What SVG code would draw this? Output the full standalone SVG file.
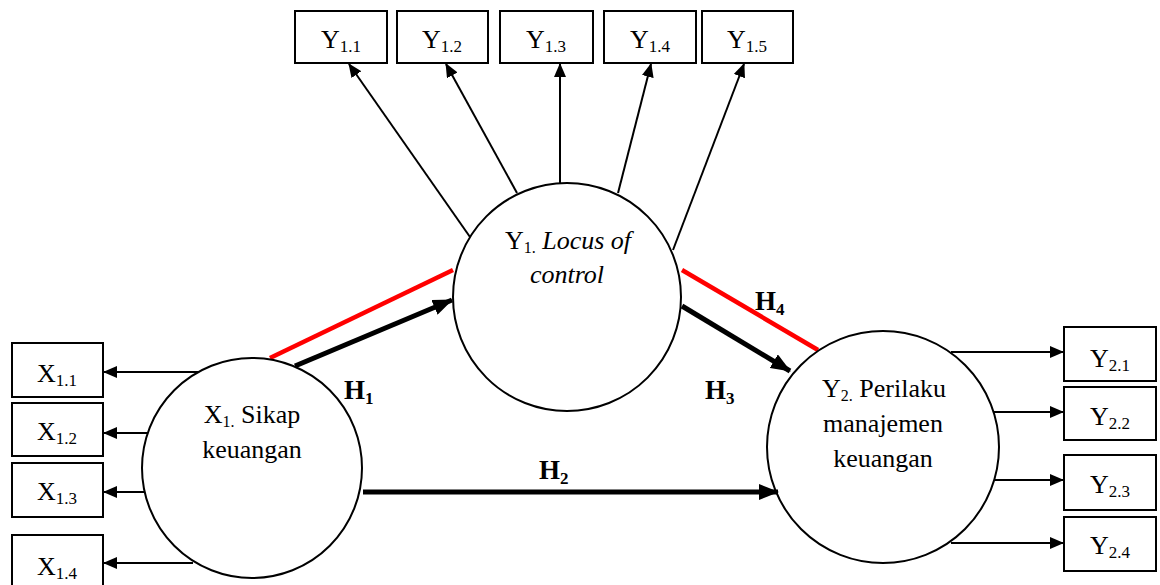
<svg xmlns="http://www.w3.org/2000/svg" width="1160" height="585" viewBox="0 0 1160 585">
<style>
.box{fill:#fff;stroke:#000;stroke-width:2}
.circ{fill:#fff;stroke:#000;stroke-width:2}
.thin{stroke:#000;stroke-width:2;fill:none;marker-end:url(#ah)}
.thick{stroke:#000;stroke-width:5;fill:none;marker-end:url(#ahb)}
.red{stroke:#ff0000;stroke-width:4.5;fill:none}
</style>
<defs>
<marker id="ah" markerUnits="userSpaceOnUse" markerWidth="14" markerHeight="12" refX="13" refY="6" orient="auto">
<path d="M0,0 L14,6 L0,12 Z" fill="#000"/>
</marker>
<marker id="ahb" markerUnits="userSpaceOnUse" markerWidth="20" markerHeight="16" refX="19" refY="8" orient="auto">
<path d="M0,0 L20,8 L0,16 Z" fill="#000"/>
</marker>
</defs>
<rect width="1160" height="585" fill="#fff"/>
<g id="connectors">
<line class="thin" x1="470" y1="237" x2="349" y2="64"/>
<line class="thin" x1="517" y1="193" x2="446" y2="64"/>
<line class="thin" x1="560" y1="184" x2="560" y2="64"/>
<line class="thin" x1="618" y1="193" x2="651" y2="64"/>
<line class="thin" x1="673" y1="250" x2="744" y2="64"/>
<line class="thin" x1="205" y1="372" x2="104" y2="372"/>
<line class="thin" x1="148" y1="433" x2="104" y2="433"/>
<line class="thin" x1="150" y1="492" x2="104" y2="492"/>
<line class="thin" x1="193" y1="563" x2="104" y2="563"/>
<line class="thin" x1="951" y1="352" x2="1063" y2="352"/>
<line class="thin" x1="988" y1="412" x2="1063" y2="412"/>
<line class="thin" x1="988" y1="480" x2="1063" y2="480"/>
<line class="thin" x1="951" y1="543" x2="1063" y2="543"/>
<line class="red" x1="270" y1="358" x2="453" y2="270"/>
<line class="red" x1="682" y1="270" x2="818" y2="350"/>
</g>
<g font-family="Liberation Serif, serif" fill="#000">
<g id="Y1" font-size="26">
<circle class="circ" cx="567" cy="297" r="114"/>
<text x="568" y="249" text-anchor="middle">Y<tspan font-size="16" dy="4">1.</tspan><tspan dy="-4" font-style="italic"> Locus of</tspan></text>
<text x="567" y="283" text-anchor="middle" font-style="italic">control</text>
</g>
<g id="X1" font-size="26">
<circle class="circ" cx="252" cy="468" r="110"/>
<text x="252" y="423" text-anchor="middle">X<tspan font-size="16" dy="4">1.</tspan><tspan dy="-4"> Sikap</tspan></text>
<text x="252" y="458" text-anchor="middle">keuangan</text>
</g>
<g id="Y2" font-size="26">
<circle class="circ" cx="883" cy="447" r="116"/>
<text x="884" y="397" text-anchor="middle">Y<tspan font-size="16" dy="4">2.</tspan><tspan dy="-4"> Perilaku</tspan></text>
<text x="883" y="432" text-anchor="middle">manajemen</text>
<text x="883" y="467" text-anchor="middle">keuangan</text>
</g>
<g id="hyp-connectors">
<line class="thick" x1="295" y1="366" x2="452" y2="300"/>
<line class="thick" x1="682" y1="306" x2="790" y2="371"/>
<line class="thick" x1="363" y1="492" x2="778" y2="492"/>
</g>
<g font-size="26" text-anchor="middle">
<g id="Y1.1"><rect class="box" x="295" y="11" width="92" height="52"/><text x="341" y="48">Y<tspan font-size="17" dy="4">1.1</tspan></text></g>
<g id="Y1.2"><rect class="box" x="397" y="11" width="91" height="52"/><text x="442" y="48">Y<tspan font-size="17" dy="4">1.2</tspan></text></g>
<g id="Y1.3"><rect class="box" x="500" y="11" width="93" height="52"/><text x="546" y="48">Y<tspan font-size="17" dy="4">1.3</tspan></text></g>
<g id="Y1.4"><rect class="box" x="604" y="11" width="92" height="52"/><text x="650" y="48">Y<tspan font-size="17" dy="4">1.4</tspan></text></g>
<g id="Y1.5"><rect class="box" x="702" y="11" width="91" height="52"/><text x="747" y="48">Y<tspan font-size="17" dy="4">1.5</tspan></text></g>
<g id="X1.1"><rect class="box" x="12" y="343" width="91" height="54"/><text x="57" y="382">X<tspan font-size="17" dy="4">1.1</tspan></text></g>
<g id="X1.2"><rect class="box" x="12" y="403" width="91" height="53"/><text x="57" y="440">X<tspan font-size="17" dy="4">1.2</tspan></text></g>
<g id="X1.3"><rect class="box" x="12" y="463" width="91" height="54"/><text x="57" y="500">X<tspan font-size="17" dy="4">1.3</tspan></text></g>
<g id="X1.4"><rect class="box" x="12" y="535" width="91" height="52"/><text x="57" y="575">X<tspan font-size="17" dy="4">1.4</tspan></text></g>
<g id="Y2.1"><rect class="box" x="1064" y="327" width="92" height="54"/><text x="1110" y="367">Y<tspan font-size="17" dy="4">2.1</tspan></text></g>
<g id="Y2.2"><rect class="box" x="1064" y="387" width="92" height="53"/><text x="1110" y="425">Y<tspan font-size="17" dy="4">2.2</tspan></text></g>
<g id="Y2.3"><rect class="box" x="1064" y="455" width="92" height="55"/><text x="1110" y="493">Y<tspan font-size="17" dy="4">2.3</tspan></text></g>
<g id="Y2.4"><rect class="box" x="1064" y="517" width="92" height="54"/><text x="1110" y="554">Y<tspan font-size="17" dy="4">2.4</tspan></text></g>
</g>
<g id="labels" font-size="27" font-weight="bold">
<text x="344" y="399">H<tspan font-size="17" dy="5">1</tspan></text>
<text x="539" y="479">H<tspan font-size="17" dy="5">2</tspan></text>
<text x="705" y="399">H<tspan font-size="17" dy="5">3</tspan></text>
<text x="755" y="310">H<tspan font-size="17" dy="5">4</tspan></text>
</g>
</g>
</svg>
